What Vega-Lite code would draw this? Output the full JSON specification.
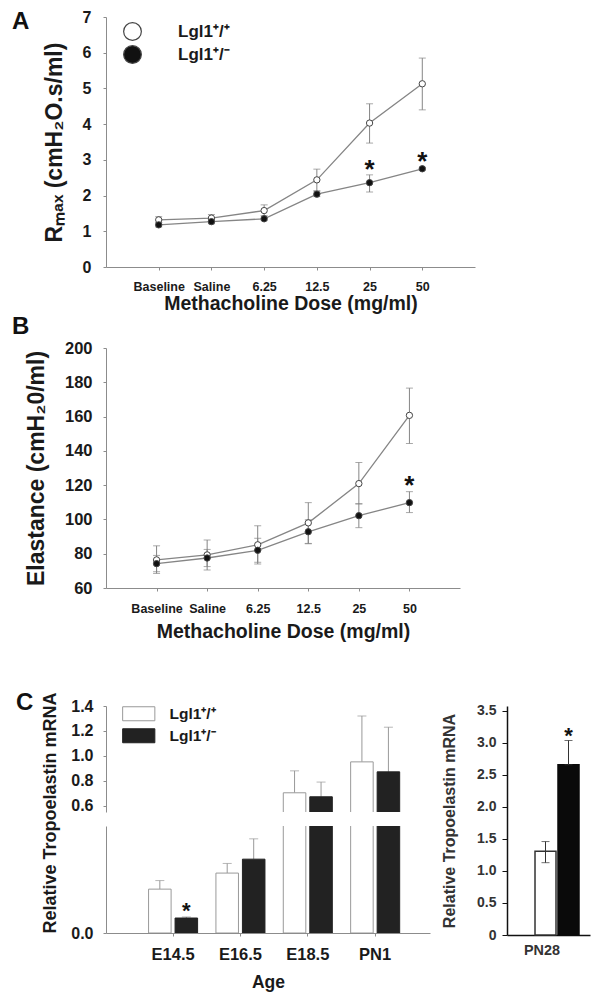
{
 "$schema": "https://vega.github.io/schema/vega-lite/v6.json",
 "background": "white",
 "padding": {"left": 12, "top": 9, "right": 5, "bottom": 5},
 "config": {
  "font": "Liberation Sans",
  "view": {"stroke": null},
  "axis": {"grid": false, "domainColor": "#8c8c8c", "tickColor": "#8c8c8c", "labelColor": "#1a1a1a", "titleColor": "#1a1a1a", "labelFontWeight": "bold", "titleFontWeight": "bold", "labelFont": "Liberation Sans", "titleFont": "Liberation Sans", "labelAngle": 0, "labelOverlap": false, "labelFlush": false},
  "legend": {"labelFont": "Liberation Sans", "labelFontWeight": "bold", "labelColor": "#1a1a1a"},
  "title": {"font": "Liberation Sans", "fontWeight": "bold", "color": "#111", "anchor": "start", "frame": "group", "fontSize": 24, "offset": 0}
 },
 "datasets": {
  "rmax": [
   {"dose": "Baseline", "genotype": "Lgl1+/+", "mean": 1.32, "lo": 1.24, "hi": 1.41, "sig": false},
   {"dose": "Saline", "genotype": "Lgl1+/+", "mean": 1.37, "lo": 1.28, "hi": 1.47, "sig": false},
   {"dose": "6.25", "genotype": "Lgl1+/+", "mean": 1.58, "lo": 1.44, "hi": 1.74, "sig": false},
   {"dose": "12.5", "genotype": "Lgl1+/+", "mean": 2.44, "lo": 2.14, "hi": 2.74, "sig": false},
   {"dose": "25", "genotype": "Lgl1+/+", "mean": 4.03, "lo": 3.47, "hi": 4.57, "sig": false},
   {"dose": "50", "genotype": "Lgl1+/+", "mean": 5.13, "lo": 4.40, "hi": 5.85, "sig": false},
   {"dose": "Baseline", "genotype": "Lgl1+/-", "mean": 1.18, "lo": 1.12, "hi": 1.24, "sig": false},
   {"dose": "Saline", "genotype": "Lgl1+/-", "mean": 1.27, "lo": 1.21, "hi": 1.33, "sig": false},
   {"dose": "6.25", "genotype": "Lgl1+/-", "mean": 1.35, "lo": 1.30, "hi": 1.40, "sig": false},
   {"dose": "12.5", "genotype": "Lgl1+/-", "mean": 2.04, "lo": 1.97, "hi": 2.11, "sig": false},
   {"dose": "25", "genotype": "Lgl1+/-", "mean": 2.36, "lo": 2.10, "hi": 2.58, "sig": true},
   {"dose": "50", "genotype": "Lgl1+/-", "mean": 2.75, "lo": 2.71, "hi": 2.79, "sig": true}
  ],
  "elast": [
   {"dose": "Baseline", "genotype": "Lgl1+/+", "mean": 76.4, "lo": 68.5, "hi": 84.6, "sig": false},
   {"dose": "Saline", "genotype": "Lgl1+/+", "mean": 79.3, "lo": 70.5, "hi": 88.0, "sig": false},
   {"dose": "6.25", "genotype": "Lgl1+/+", "mean": 85.2, "lo": 74.0, "hi": 96.3, "sig": false},
   {"dose": "12.5", "genotype": "Lgl1+/+", "mean": 98.0, "lo": 86.0, "hi": 109.8, "sig": false},
   {"dose": "25", "genotype": "Lgl1+/+", "mean": 120.9, "lo": 109.0, "hi": 133.2, "sig": false},
   {"dose": "50", "genotype": "Lgl1+/+", "mean": 160.7, "lo": 144.3, "hi": 176.6, "sig": false},
   {"dose": "Baseline", "genotype": "Lgl1+/-", "mean": 74.2, "lo": 69.5, "hi": 79.0, "sig": false},
   {"dose": "Saline", "genotype": "Lgl1+/-", "mean": 77.5, "lo": 72.5, "hi": 82.5, "sig": false},
   {"dose": "6.25", "genotype": "Lgl1+/-", "mean": 82.0, "lo": 75.0, "hi": 89.0, "sig": false},
   {"dose": "12.5", "genotype": "Lgl1+/-", "mean": 92.8, "lo": 85.8, "hi": 99.8, "sig": false},
   {"dose": "25", "genotype": "Lgl1+/-", "mean": 102.2, "lo": 95.2, "hi": 109.2, "sig": false},
   {"dose": "50", "genotype": "Lgl1+/-", "mean": 109.8, "lo": 104.0, "hi": 116.2, "sig": true}
  ],
  "tropo": [
   {"age": "E14.5", "genotype": "Lgl1+/+", "value": 0.041, "hi": 0.049, "sig": false},
   {"age": "E14.5", "genotype": "Lgl1+/-", "value": 0.014, "hi": 0.015, "sig": true},
   {"age": "E16.5", "genotype": "Lgl1+/+", "value": 0.056, "hi": 0.065, "sig": false},
   {"age": "E16.5", "genotype": "Lgl1+/-", "value": 0.069, "hi": 0.088, "sig": false},
   {"age": "E18.5", "genotype": "Lgl1+/+", "value": 0.704, "hi": 0.88, "sig": false},
   {"age": "E18.5", "genotype": "Lgl1+/-", "value": 0.672, "hi": 0.79, "sig": false},
   {"age": "PN1", "genotype": "Lgl1+/+", "value": 0.952, "hi": 1.32, "sig": false},
   {"age": "PN1", "genotype": "Lgl1+/-", "value": 0.872, "hi": 1.23, "sig": false}
  ],
  "pn28": [
   {"age": "PN28", "genotype": "Lgl1+/+", "value": 1.31, "lo": 1.13, "hi": 1.46, "sig": false},
   {"age": "PN28", "genotype": "Lgl1+/-", "value": 2.66, "lo": 2.66, "hi": 3.04, "sig": true}
  ]
 },
 "resolve": {"scale": {"fill": "independent", "stroke": "independent"}, "legend": {"fill": "independent", "stroke": "independent"}},
 "spacing": 50,
 "vconcat": [
  {
   "spacing": 2,
   "resolve": {"scale": {"fill": "independent", "stroke": "independent"}, "legend": {"fill": "independent", "stroke": "independent"}},
   "vconcat": [
    {
     "width": 369, "height": 250,
     "title": {"text": "A", "dx": -94, "dy": 29},
     "data": {"name": "rmax"},
     "encoding": {
      "x": {"field": "dose", "type": "ordinal", "scale": {"type": "point", "domain": ["_l", "Baseline", "Saline", "6.25", "12.5", "25", "50", "_r"], "padding": 0},
            "axis": {"values": ["Baseline", "Saline", "6.25", "12.5", "25", "50"], "title": "Methacholine Dose (mg/ml)", "labelFontSize": 12.5, "titleFontSize": 19.5, "tickSize": 3, "labelPadding": 10, "titlePadding": 2, "labelOverlap": false}}
     },
     "layer": [
      {"mark": {"type": "line", "color": "#858585", "strokeWidth": 1.3},
       "encoding": {"y": {"field": "mean", "type": "quantitative", "scale": {"domain": [0, 7], "nice": false},
                          "axis": {"title": "Rₘₐₓ (cmH₂O.s/ml)", "values": [0, 1, 2, 3, 4, 5, 6, 7], "tickCount": 50, "format": "d", "labelOverlap": false, "labelFontSize": 16, "titleFontSize": 23, "tickSize": 3, "labelPadding": 12, "titlePadding": 16}},
                    "detail": {"field": "genotype"}}},
      {"mark": {"type": "rule", "color": "#858585", "strokeWidth": 1}, "encoding": {"y": {"field": "lo", "type": "quantitative"}, "y2": {"field": "hi"}}},
      {"mark": {"type": "tick", "color": "#858585", "size": 7, "thickness": 1}, "encoding": {"y": {"field": "lo", "type": "quantitative"}}},
      {"mark": {"type": "tick", "color": "#858585", "size": 7, "thickness": 1}, "encoding": {"y": {"field": "hi", "type": "quantitative"}}},
      {"mark": {"type": "point", "filled": true, "size": 40, "stroke": "#444", "strokeWidth": 1, "opacity": 1},
       "encoding": {"y": {"field": "mean", "type": "quantitative"},
                    "fill": {"field": "genotype", "type": "nominal", "scale": {"domain": ["Lgl1+/+", "Lgl1+/-"], "range": ["white", "#111"]},
                             "legend": {"orient": "none", "legendX": 17, "legendY": 5, "title": null, "symbolType": "circle", "symbolSize": 314, "symbolStrokeColor": "#444", "symbolStrokeWidth": 1.2, "symbolOpacity": 1, "labelFontSize": 17, "labelOffset": 36, "rowPadding": 0, "padding": 0,
                                        "labelExpr": "datum.label == 'Lgl1+/+' ? 'Lgl1⁺/⁺' : 'Lgl1⁺/⁻'"}}}},
      {"transform": [{"filter": "datum.sig"}], "mark": {"type": "text", "text": "*", "fontSize": 26, "fontWeight": "bold", "color": "#111", "dy": -5, "baseline": "middle"},
       "encoding": {"y": {"field": "hi", "type": "quantitative"}}}
     ]
    },
    {
     "width": 354, "height": 240,
     "title": {"text": "B", "dx": -94, "dy": 3},
     "data": {"name": "elast"},
     "encoding": {
      "x": {"field": "dose", "type": "ordinal", "scale": {"type": "point", "domain": ["_l", "Baseline", "Saline", "6.25", "12.5", "25", "50", "_r"], "padding": 0},
            "axis": {"values": ["Baseline", "Saline", "6.25", "12.5", "25", "50"], "title": "Methacholine Dose (mg/ml)", "labelFontSize": 12.5, "titleFontSize": 19.5, "tickSize": 3, "labelPadding": 11, "titlePadding": 8, "labelOverlap": false}}
     },
     "layer": [
      {"mark": {"type": "line", "color": "#858585", "strokeWidth": 1.3},
       "encoding": {"y": {"field": "mean", "type": "quantitative", "scale": {"domain": [60, 200], "nice": false, "zero": false},
                          "axis": {"title": "Elastance (cmH₂0/ml)", "values": [60, 80, 100, 120, 140, 160, 180, 200], "tickCount": 50, "format": "d", "labelOverlap": false, "labelFontSize": 16.5, "titleFontSize": 23, "tickSize": 3, "labelPadding": 11, "titlePadding": 16}},
                    "detail": {"field": "genotype"}}},
      {"mark": {"type": "rule", "color": "#858585", "strokeWidth": 1}, "encoding": {"y": {"field": "lo", "type": "quantitative"}, "y2": {"field": "hi"}}},
      {"mark": {"type": "tick", "color": "#858585", "size": 7, "thickness": 1}, "encoding": {"y": {"field": "lo", "type": "quantitative"}}},
      {"mark": {"type": "tick", "color": "#858585", "size": 7, "thickness": 1}, "encoding": {"y": {"field": "hi", "type": "quantitative"}}},
      {"mark": {"type": "point", "filled": true, "size": 40, "stroke": "#444", "strokeWidth": 1, "opacity": 1},
       "encoding": {"y": {"field": "mean", "type": "quantitative"},
                    "fill": {"field": "genotype", "type": "nominal", "scale": {"domain": ["Lgl1+/+", "Lgl1+/-"], "range": ["white", "#111"]}, "legend": null}}},
      {"transform": [{"filter": "datum.sig"}], "mark": {"type": "text", "text": "*", "fontSize": 26, "fontWeight": "bold", "color": "#111", "dy": -6, "baseline": "middle"},
       "encoding": {"y": {"field": "hi", "type": "quantitative"}}}
     ]
    }
   ]
  },
  {
   "spacing": 11,
   "resolve": {"scale": {"fill": "independent", "stroke": "independent"}, "legend": {"fill": "independent", "stroke": "independent"}},
   "hconcat": [
    {
     "spacing": 14,
     "bounds": "flush",
     "resolve": {"scale": {"fill": "independent", "stroke": "independent"}, "legend": {"fill": "independent", "stroke": "independent"}},
     "vconcat": [
      {
       "width": 324, "height": 106,
       "title": {"text": "C", "dx": -90, "dy": 21},
       "data": {"name": "tropo"},
       "encoding": {
        "x": {"field": "age", "type": "nominal", "scale": {"domain": ["E14.5", "E16.5", "E18.5", "PN1"], "paddingInner": 0.272, "paddingOuter": 0.541, "align": 0.584}, "axis": null},
        "xOffset": {"field": "genotype", "type": "nominal", "scale": {"domain": ["Lgl1+/+", "Lgl1+/-"], "paddingInner": 0.15, "paddingOuter": 0}}
       },
       "layer": [
        {"mark": {"type": "rule", "color": "#999", "clip": true},
         "encoding": {"y": {"field": "value", "type": "quantitative", "scale": {"domain": [0.55, 1.4], "nice": false, "zero": false},
                            "axis": {"values": [0.6, 0.8, 1.0, 1.2, 1.4], "tickCount": 50, "format": ".1f", "title": null, "labelOverlap": false, "labelFontSize": 16, "tickSize": 3, "labelPadding": 10}},
                      "y2": {"field": "hi"}}},
        {"mark": {"type": "tick", "color": "#999", "size": 9, "thickness": 1, "clip": true}, "encoding": {"y": {"field": "hi", "type": "quantitative"}}},
        {"mark": {"type": "bar", "clip": true, "strokeWidth": 1},
         "encoding": {"y": {"field": "value", "type": "quantitative"},
                      "fill": {"field": "genotype", "type": "nominal", "scale": {"domain": ["Lgl1+/+", "Lgl1+/-"], "range": ["white", "#222"]},
                               "legend": {"orient": "none", "legendX": 25, "legendY": 0, "title": null, "symbolType": "M-2.3,-1H2.3V1H-2.3Z", "symbolSize": 196, "symbolStrokeColor": "#777", "symbolStrokeWidth": 1, "symbolOpacity": 1, "labelFontSize": 15.5, "labelOffset": 23, "rowPadding": 3, "padding": 0,
                                          "labelExpr": "datum.label == 'Lgl1+/+' ? 'Lgl1⁺/⁺' : 'Lgl1⁺/⁻'"}},
                      "stroke": {"field": "genotype", "type": "nominal", "scale": {"domain": ["Lgl1+/+", "Lgl1+/-"], "range": ["#999", "#222"]}, "legend": null}}}
       ]
      },
      {
       "width": 324, "height": 107,
       "data": {"name": "tropo"},
       "encoding": {
        "x": {"field": "age", "type": "nominal", "scale": {"domain": ["E14.5", "E16.5", "E18.5", "PN1"], "paddingInner": 0.272, "paddingOuter": 0.541, "align": 0.584},
              "axis": {"title": "Age", "labelFontSize": 16.5, "titleFontSize": 17.5, "tickSize": 3, "labelPadding": 10, "titlePadding": 11, "labelOverlap": false}},
        "xOffset": {"field": "genotype", "type": "nominal", "scale": {"domain": ["Lgl1+/+", "Lgl1+/-"], "paddingInner": 0.15, "paddingOuter": 0}}
       },
       "layer": [
        {"mark": {"type": "rule", "color": "#999", "clip": true},
         "encoding": {"y": {"field": "value", "type": "quantitative", "scale": {"domain": [0, 0.1], "nice": false},
                            "axis": {"values": [0], "format": ".1f", "title": "Relative Tropoelastin mRNA", "titleAnchor": "start", "titleFontSize": 18, "labelOverlap": false, "labelFontSize": 16, "tickSize": 3, "labelPadding": 10, "titlePadding": 11}},
                      "y2": {"field": "hi"}}},
        {"mark": {"type": "tick", "color": "#999", "size": 9, "thickness": 1, "clip": true}, "encoding": {"y": {"field": "hi", "type": "quantitative"}}},
        {"mark": {"type": "bar", "clip": true, "strokeWidth": 1},
         "encoding": {"y": {"field": "value", "type": "quantitative"},
                      "fill": {"field": "genotype", "type": "nominal", "scale": {"domain": ["Lgl1+/+", "Lgl1+/-"], "range": ["white", "#222"]}, "legend": null},
                      "stroke": {"field": "genotype", "type": "nominal", "scale": {"domain": ["Lgl1+/+", "Lgl1+/-"], "range": ["#999", "#222"]}, "legend": null}}},
        {"transform": [{"filter": "datum.sig"}], "mark": {"type": "text", "text": "*", "fontSize": 22, "fontWeight": "bold", "color": "#111", "dy": -6, "baseline": "middle"},
         "encoding": {"y": {"field": "hi", "type": "quantitative"}}}
       ]
      }
     ]
    },
    {
     "width": 83, "height": 229,
     "data": {"name": "pn28"},
     "encoding": {
      "x": {"field": "genotype", "type": "nominal", "scale": {"domain": ["Lgl1+/+", "Lgl1+/-"], "paddingInner": 0.087, "paddingOuter": 0.848, "align": 0.718},
            "axis": {"title": null, "values": ["Lgl1+/+"], "labelExpr": "'PN28'", "labelFontSize": 14.4, "tickSize": 0, "domainColor": "#111", "domainWidth": 1.5, "labelPadding": 8, "labelColor": "#333", "labelOffset": -3.5, "labelOverlap": false}}
     },
     "layer": [
      {"mark": {"type": "bar", "strokeWidth": 1.5},
       "encoding": {"y": {"field": "value", "type": "quantitative", "scale": {"domain": [0, 3.578], "nice": false},
                          "axis": {"values": [0, 0.5, 1, 1.5, 2, 2.5, 3, 3.5], "tickCount": 50, "labelOverlap": false, "labelExpr": "datum.value == 0 ? '0' : format(datum.value, '.1f')", "tickSize": 5, "tickColor": "#111", "domainColor": "#111", "domainWidth": 1.5, "labelFontSize": 14, "labelColor": "#333", "labelPadding": 6, "title": "Relative Tropoelastin mRNA", "titleFontSize": 16, "titleColor": "#333", "titlePadding": 19}},
                    "fill": {"field": "genotype", "type": "nominal", "scale": {"domain": ["Lgl1+/+", "Lgl1+/-"], "range": ["white", "#0a0a0a"]}, "legend": null},
                    "stroke": {"field": "genotype", "type": "nominal", "scale": {"domain": ["Lgl1+/+", "Lgl1+/-"], "range": ["#333", "#0a0a0a"]}, "legend": null}}},
      {"mark": {"type": "rule", "color": "#333"}, "encoding": {"y": {"field": "lo", "type": "quantitative"}, "y2": {"field": "hi"}}},
      {"mark": {"type": "tick", "color": "#333", "size": 8, "thickness": 1}, "encoding": {"y": {"field": "lo", "type": "quantitative"}}},
      {"mark": {"type": "tick", "color": "#333", "size": 8, "thickness": 1}, "encoding": {"y": {"field": "hi", "type": "quantitative"}}},
      {"transform": [{"filter": "datum.sig"}], "mark": {"type": "text", "text": "*", "fontSize": 22, "fontWeight": "bold", "color": "#111", "dy": -4, "baseline": "middle"},
       "encoding": {"y": {"field": "hi", "type": "quantitative"}}}
     ]
    }
   ]
  }
 ]
}
